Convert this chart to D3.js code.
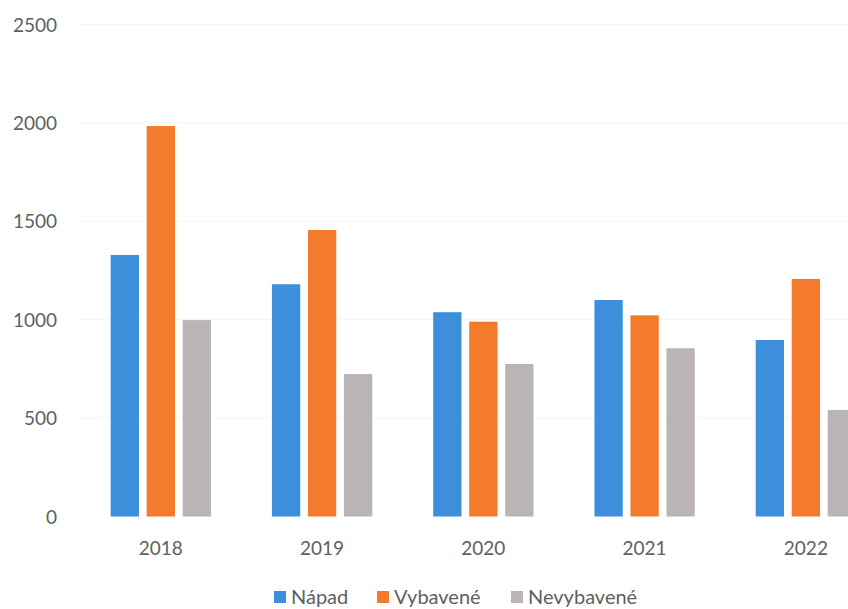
<!DOCTYPE html>
<html>
<head>
<meta charset="utf-8">
<script src="https://cdn.jsdelivr.net/npm/d3@7"></script>
<style>
  body { margin: 0; background: #fff; }
  text { font-family: Lato, "Open Sans", sans-serif; }
</style>
</head>
<body>
<div id="chart"></div>
<script>
// data
var years = ['2018', '2019', '2020', '2021', '2022'];
var napad = [1329, 1180, 1038, 1100, 897];
var vybavene = [1984, 1456, 990, 1022, 1207];
var nevybavene = [998, 724, 775, 855, 541];
var seriesNames = ['Nápad', 'Vybavené', 'Nevybavené'];
var yTicks = [0, 500, 1000, 1500, 2000, 2500];

var colors = ['#3d8fdb', '#f47b2b', '#bab4b4'];

var svgWidth = 848;
var svgHeight = 609;

var svg = d3.select('#chart')
    .append('svg')
    .attr('width', svgWidth)
    .attr('height', svgHeight);

// plot area runs past the right edge like in the picture
var x0 = d3.scaleBand()
    .domain(years)
    .range([80.2, 886.5]);

var x1 = d3.scaleBand()
    .domain(seriesNames)
    .range([0, 100.3])
    .paddingInner(0.214);

var y = d3.scaleLinear()
    .domain([0, 2500])
    .range([516.5, 24.5]);

// faint gridlines
svg.append('g')
    .selectAll('line')
    .data(yTicks.slice(1))
    .enter()
    .append('line')
    .attr('x1', 80)
    .attr('x2', svgWidth)
    .attr('y1', d => y(d))
    .attr('y2', d => y(d))
    .attr('stroke', '#f5f5f5')
    .attr('stroke-width', 1);

// y axis labels
var leftAxis = d3.axisLeft(y).tickValues(yTicks).tickFormat(d3.format('d')).tickSize(0).tickPadding(0);
var yAxis = svg.append('g')
    .attr('transform', 'translate(57,0)')
    .call(leftAxis);
yAxis.select('.domain').remove();
yAxis.selectAll('text')
    .attr('font-size', '19px')
    .attr('font-family', 'Lato, sans-serif')
    .attr('fill', '#5f5f5f')
    .attr('dy', '0.35em');

// x axis labels
var bottomAxis = d3.axisBottom(x0).tickSize(0).tickPadding(0);
var xAxis = svg.append('g')
    .attr('transform', 'translate(0,548)')
    .call(bottomAxis);
xAxis.select('.domain').remove();
xAxis.selectAll('text')
    .attr('font-size', '19px')
    .attr('font-family', 'Lato, sans-serif')
    .attr('fill', '#5f5f5f')
    .attr('dy', '0.35em');

// bars
var table = years.map(function(yr, i) {
    return { year: yr, values: [napad[i], vybavene[i], nevybavene[i]] };
});

var groups = svg.selectAll('.group')
    .data(table)
    .enter()
    .append('g')
    .attr('class', 'group')
    .attr('transform', d => `translate(${x0(d.year) + (x0.bandwidth() - 100.3) / 2}, 0)`);

groups.selectAll('rect')
    .data(d => d.values.map((v, j) => ({ name: seriesNames[j], value: v, idx: j })))
    .enter()
    .append('rect')
    .attr('x', d => x1(d.name))
    .attr('y', d => y(d.value))
    .attr('width', x1.bandwidth())
    .attr('height', d => y(0) - y(d.value))
    .attr('fill', d => colors[d.idx]);

// legend
var legendX = [274, 377, 511];
var legend = svg.append('g')
    .selectAll('g')
    .data(seriesNames)
    .enter()
    .append('g')
    .attr('transform', (d, i) => `translate(${legendX[i]}, 597)`);

legend.append('rect')
    .attr('x', 0)
    .attr('y', -6)
    .attr('width', 12)
    .attr('height', 12)
    .attr('fill', (d, i) => colors[i]);

legend.append('text')
    .attr('x', 17)
    .attr('y', 0)
    .attr('dy', '0.35em')
    .attr('font-size', '20px')
    .attr('fill', '#5f5f5f')
    .text(d => d);
</script>
</body>
</html>
